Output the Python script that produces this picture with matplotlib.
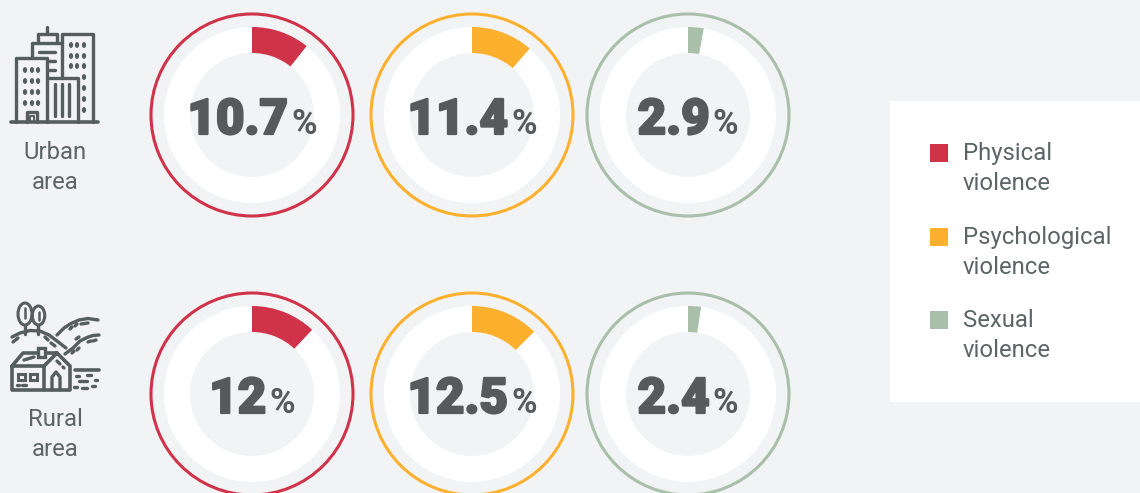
#!/usr/bin/env python
# Violence prevalence rings, urban vs rural
import matplotlib
matplotlib.use("Agg")
import matplotlib.pyplot as plt
import matplotlib.patheffects as pe
from matplotlib.patches import Circle, Ellipse, Rectangle

areas = ["Urban\narea", "Rural\narea"]
categories = ["Physical\nviolence", "Psychological\nviolence", "Sexual\nviolence"]
colors = ["#d03349", "#fdb02e", "#a9bfa9"]
urban_values = [10.7, 11.4, 2.9]
rural_values = [12, 12.5, 2.4]
urban_labels = ["10.7", "11.4", "2.9"]
rural_labels = ["12", "12.5", "2.4"]

bg = "#f1f3f5"
ink = "#58595b"
icon_c = "#555d5d"
label_c = "#5c6464"

W, H = 1140, 493
fig = plt.figure(figsize=(W / 100, H / 100), dpi=100, facecolor=bg)
ax = fig.add_axes([0, 0, 1, 1])

col_x = [252, 472, 688]
row_y = [115, 394]


def line(pts, lw=2.4, ls="-"):
    ax.plot([p[0] for p in pts], [p[1] for p in pts], color=icon_c, lw=lw, ls=ls,
            solid_capstyle="round", solid_joinstyle="round", zorder=3)


def dots(xs, ys):
    for x in xs:
        for y in ys:
            ax.add_patch(Ellipse((x, y), 2.8, 4.4, color=icon_c, zorder=3))


def urban_icon():
    line([(11, 122), (98, 122)], 2.6)
    line([(16, 122), (16, 58), (47, 58), (47, 122)])
    line([(32, 58), (32, 43), (62, 43)])
    line([(38, 43), (38, 34), (57, 34), (57, 43)])
    line([(47, 34), (47, 27)])
    line([(62, 78), (62, 34), (93, 34), (93, 122)])
    line([(48, 78), (78, 78), (78, 122)])
    for x in [55, 62, 69]:
        line([(x, 84), (x, 116)])
    line([(27, 122), (27, 112), (37, 112), (37, 122)])
    line([(30, 122), (30, 116), (34, 116), (34, 122)], 1.4)
    line([(39, 52), (55, 52)])
    line([(48, 61), (55, 61)])
    line([(48, 70), (55, 70)])
    dots([25, 32, 38], [70, 81, 92, 103])
    dots([71, 77, 84], [45, 56, 66])
    dots([84], [77, 88, 99, 110])


def rural_icon():
    ax.add_patch(Ellipse((25, 314), 14, 22, fill=False, ec=icon_c, lw=2.2, zorder=3))
    ax.add_patch(Ellipse((38.5, 315.5), 12.5, 19, fill=False, ec=icon_c, lw=2.2, zorder=3))
    line([(25, 308), (25, 318)], 1.8)
    line([(39, 312), (39, 320)], 1.8)
    line([(25, 325), (25, 334)])
    line([(38, 325), (38, 334)])
    line([(12, 337), (20, 333), (30, 330.5), (40, 331), (49, 335), (57, 341), (66, 348)])
    line([(13, 342), (18, 338)])
    line([(45, 337), (48, 340)])
    line([(51, 343), (55, 346)])
    line([(57, 335), (64, 328), (71, 323.5), (79, 320), (88, 318.5), (98, 320)])
    line([(70, 329), (72, 327)])
    line([(75, 326), (77, 324)])
    line([(81, 324), (88, 323)])
    line([(65, 354), (73, 348), (80, 341), (87, 337.5), (93, 335.5), (99, 335)])
    line([(76, 339), (79, 337)])
    line([(72, 353), (74, 351)])
    line([(77, 350), (79, 348)])
    line([(88, 342), (91, 341)])
    line([(93, 341), (96, 340)])
    # house
    line([(12, 366), (12, 390), (70, 390), (70, 366), (57, 353), (23, 353), (12, 366), (44, 366), (57, 353)], 2.6)
    line([(44, 366), (44, 390)], 2.6)
    line([(24, 360), (34, 357)])
    line([(57, 361), (60, 364)])
    line([(63, 367), (64, 368)])
    ax.add_patch(Rectangle((38, 348), 7, 9, fc=bg, ec=icon_c, lw=2.4, zorder=4))
    ax.add_patch(Rectangle((18, 374), 7, 6, fill=False, ec=icon_c, lw=2.2, zorder=3))
    ax.add_patch(Rectangle((30, 374), 7, 6, fill=False, ec=icon_c, lw=2.2, zorder=3))
    line([(17, 385), (19, 385)])
    line([(22, 385), (26, 385)])
    line([(52, 390), (52, 377), (56, 372), (60, 377), (60, 390)])
    line([(75, 370), (99, 370)], 2.6)
    for a, b, y in [(76, 79, 376), (87, 91, 375), (79, 87, 381), (95, 97, 380),
                    (74, 77, 387), (82, 87, 388), (92, 95, 386)]:
        line([(a, y), (b, y)], 2.4)


# rings
heavy = [pe.withStroke(linewidth=1.6, foreground=ink)]
rows = [(urban_values, urban_labels), (rural_values, rural_labels)]
for (values, labels), cy in zip(rows, row_y):
    for v, lab, c, cx in zip(values, labels, colors, col_x):
        ax.add_patch(Circle((cx, cy), 101, fill=False, ec=c, lw=2.2, zorder=1))
        # y axis is flipped, so -90 is the top of the ring
        ax.pie([v, 100 - v], colors=[c, "white"], center=(cx, cy), radius=88, startangle=-90,
               counterclock=True, wedgeprops=dict(width=26, lw=0))
        # big number + small percent, placed side by side and centred
        t = ax.text(cx, cy + 19, lab, fontsize=35.5, family="Roboto", weight="black",
                    color=ink, ha="left", va="baseline", zorder=5, path_effects=heavy)
        p = ax.text(cx, cy + 19, "%", fontsize=25, family="Roboto", weight="bold",
                    color=ink, ha="left", va="baseline", zorder=5)
        fig.canvas.draw()
        rend = fig.canvas.get_renderer()
        tw = t.get_window_extent(rend).width
        pw = p.get_window_extent(rend).width
        left = cx - (tw + pw + 3) / 2
        t.set_x(left)
        p.set_x(left + tw + 3)

ax.set_xlim(0, W)
ax.set_ylim(H, 0)
ax.set_aspect("auto")
ax.axis("off")

urban_icon()
rural_icon()

for name, y in zip(areas, [167.6, 434.6]):
    ax.text(55, y, name, fontsize=17.2, family="Roboto", color=label_c, ha="center", va="center", linespacing=1.36)

# legend
ax.add_patch(Rectangle((890, 101), 250, 301, fc="white", ec="none", zorder=1))
for name, c, sq_y in zip(categories, colors, [144, 228, 311]):
    ax.add_patch(Rectangle((930, sq_y), 18, 18, fc=c, ec="none", zorder=2))
    ax.text(963, sq_y + 24.6, name, fontsize=17.2, family="Roboto", color=label_c, ha="left", va="center",
            linespacing=1.36, zorder=3)

fig.savefig("out.png", dpi=100, facecolor=bg)
